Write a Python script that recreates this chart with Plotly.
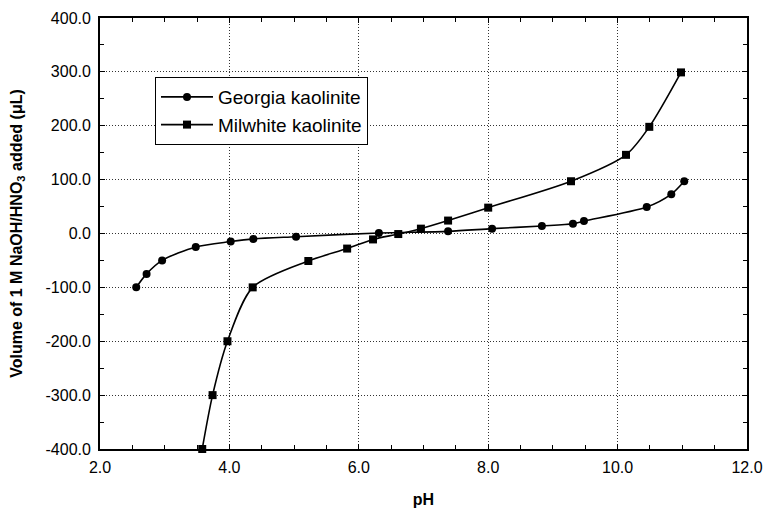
import plotly.graph_objects as go

georgia_ph = [2.56, 2.72, 2.96, 3.48, 4.02, 4.37, 5.03, 6.31, 7.38, 8.06, 8.83, 9.31, 9.48, 10.45, 10.83, 11.03]
georgia_vol = [-100, -75, -50, -25, -15, -10, -6, 1, 4, 9, 14, 18, 23, 49, 73, 97]

milwhite_ph = [3.58, 3.74, 3.97, 4.36, 5.22, 5.82, 6.22, 6.61, 6.96, 7.38, 8.0, 9.28, 10.13, 10.49, 10.98]
milwhite_vol = [-400, -300, -200, -100, -51, -28, -11, -1, 9, 24, 48, 97, 146, 198, 299]

x_ticks = [2, 4, 6, 8, 10, 12]
x_labels = ["2.0", "4.0", "6.0", "8.0", "10.0", "12.0"]
y_ticks = [-400, -300, -200, -100, 0, 100, 200, 300, 400]
y_labels = ["-400.0", "-300.0", "-200.0", "-100.0", "0.0", "100.0", "200.0", "300.0", "400.0"]

FONT = "Liberation Sans, Arial, sans-serif"

fig = go.Figure()
fig.add_trace(go.Scatter(
    x=georgia_ph, y=georgia_vol, name="Georgia kaolinite",
    mode="lines+markers", line=dict(color="black", width=1.6, shape="spline", smoothing=0.8),
    marker=dict(symbol="circle", size=8, color="black"), cliponaxis=False,
))
fig.add_trace(go.Scatter(
    x=milwhite_ph, y=milwhite_vol, name="Milwhite kaolinite",
    mode="lines+markers", line=dict(color="black", width=1.6, shape="spline", smoothing=0.8),
    marker=dict(symbol="square", size=8, color="black"), cliponaxis=False,
))

axis_common = dict(
    showline=True, linecolor="black", linewidth=1.8, mirror="allticks",
    ticks="inside", ticklen=5, tickcolor="black", tickwidth=1.2,
    showgrid=True, gridcolor="#333333", griddash="1px,2px", gridwidth=1,
    zeroline=False, automargin=False,
    tickfont=dict(family=FONT, size=16, color="black"),
)

fig.update_xaxes(
    range=[2, 12], tickvals=x_ticks, ticktext=x_labels, ticklabelstandoff=3,
    minor=dict(dtick=0.5, ticks="inside", ticklen=4, tickcolor="black", showgrid=False),
    title=dict(text="<b>pH</b>", font=dict(family=FONT, size=16, color="black"), standoff=21),
    **axis_common,
)
fig.update_yaxes(
    range=[-400, 400], tickvals=y_ticks, ticktext=y_labels, ticklabelstandoff=4,
    minor=dict(dtick=50, ticks="inside", ticklen=4, tickcolor="black", showgrid=False),
    title=dict(text="<b>Volume of 1 M NaOH/HNO<sub>3</sub> added (μL)</b>",
               font=dict(family=FONT, size=16, color="black"), standoff=19),
    **axis_common,
)

fig.update_layout(
    width=763, height=508,
    margin=dict(l=100, r=16, t=18, b=59),
    paper_bgcolor="white", plot_bgcolor="white",
    showlegend=True,
    legend=dict(
        x=0.085, y=0.863, xanchor="left", yanchor="top",
        bgcolor="white", bordercolor="black", borderwidth=1,
        font=dict(family=FONT, size=19, color="black"),
        itemwidth=52, tracegroupgap=0,
    ),
)

fig.write_html(
    "out.html",
    config={"displayModeBar": False},
    post_script="document.body.style.margin='0';document.body.style.overflow='hidden';",
)
